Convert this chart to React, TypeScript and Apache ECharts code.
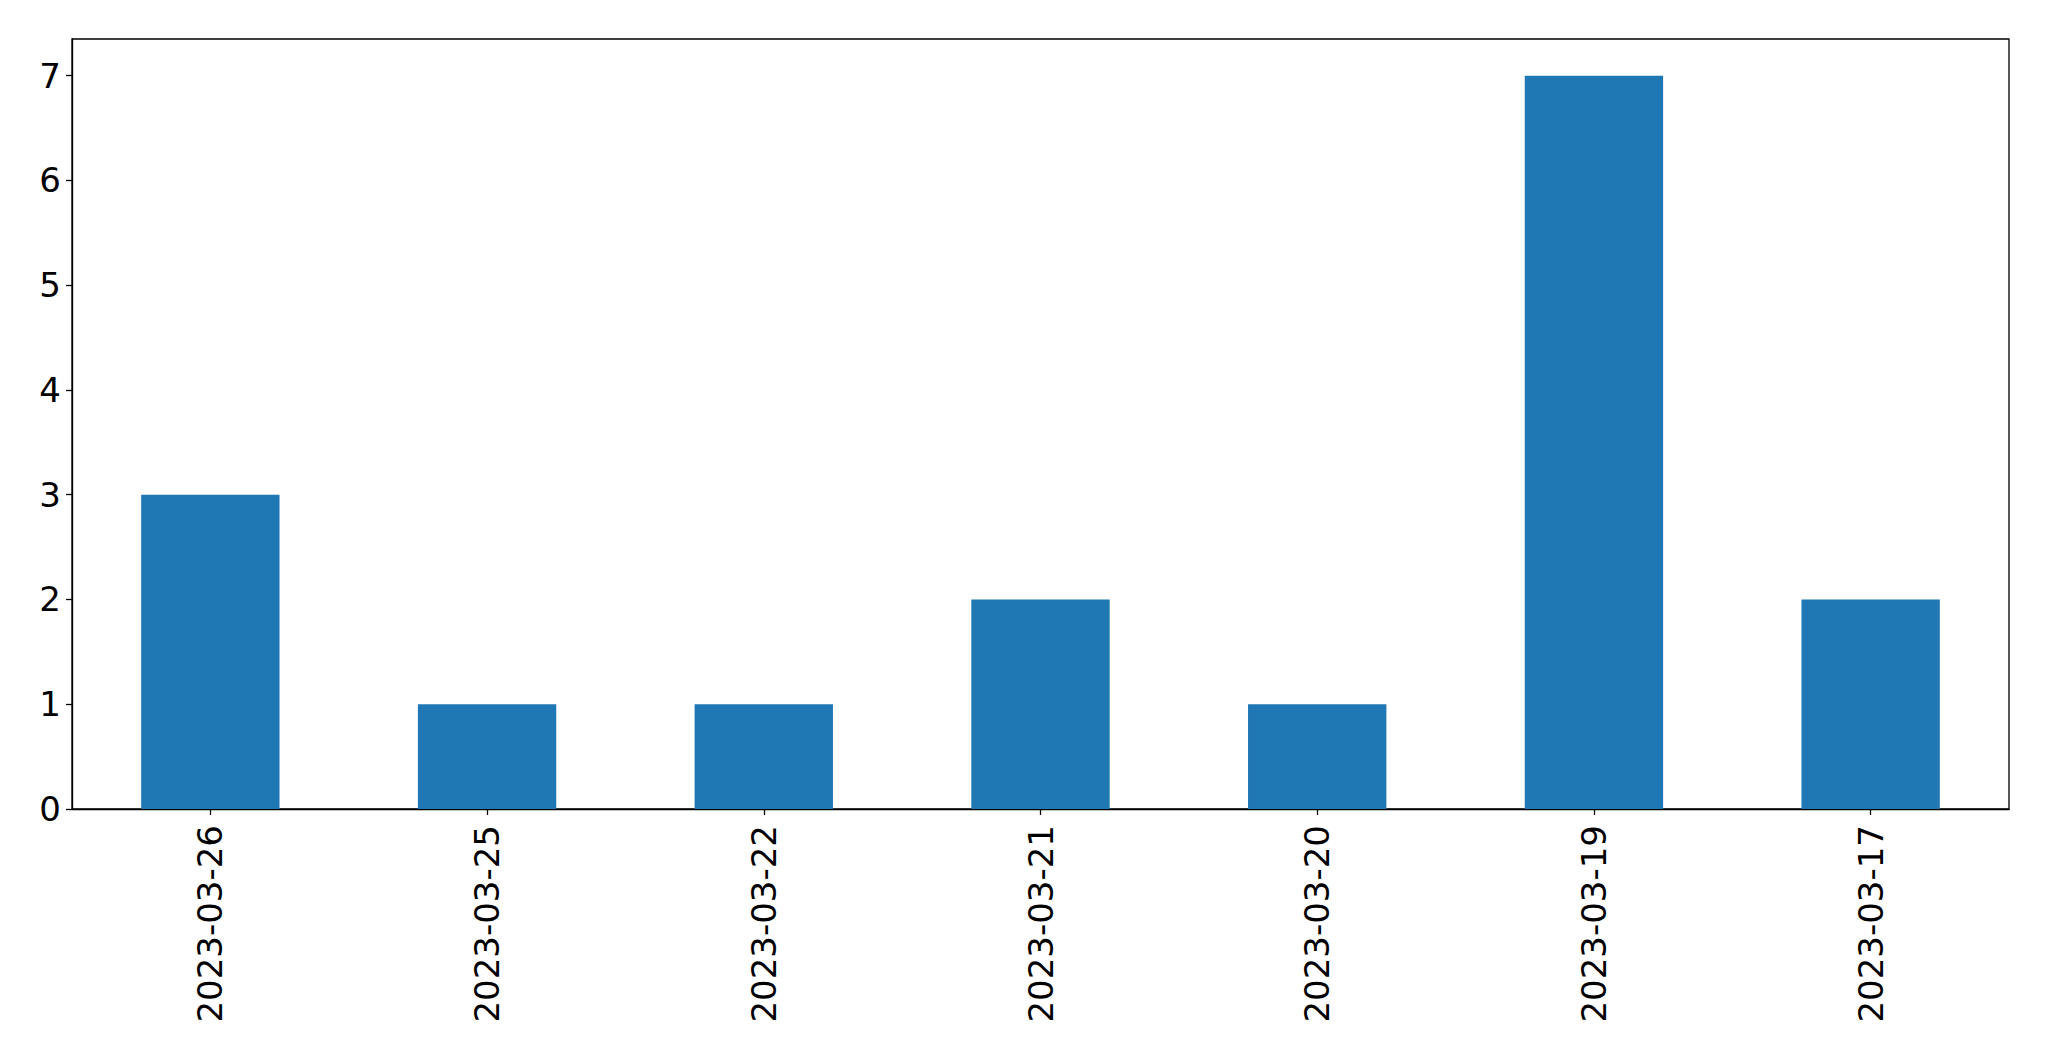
import React, { useEffect, useRef } from "react";
import * as echarts from "echarts";

const categories = ["2023-03-26", "2023-03-25", "2023-03-22", "2023-03-21", "2023-03-20", "2023-03-19", "2023-03-17"];
const values = [3, 1, 1, 2, 1, 7, 2];
const yTicks = [0, 1, 2, 3, 4, 5, 6, 7];

export default function App() {
  const ref = useRef<HTMLDivElement>(null);
  useEffect(() => {
    if (!ref.current) return;
    const chart = echarts.init(ref.current, undefined, { renderer: "svg" });
    const font = "DejaVu Sans";
    chart.setOption({
      animation: false,
      backgroundColor: "#ffffff",
      textStyle: { fontFamily: font },
      grid: {
        left: 72,
        top: 39,
        right: 40,
        bottom: 252,
        show: true,
        borderColor: "#000000",
        borderWidth: 1.3,
        backgroundColor: "transparent",
      },
      xAxis: {
        type: "category",
        data: categories,
        boundaryGap: true,
        axisLine: { show: true, lineStyle: { color: "#000000", width: 1.3 } },
        axisTick: { show: true, alignWithLabel: true, length: 6, lineStyle: { color: "#000000", width: 1.3 } },
        axisLabel: { rotate: 90, fontSize: 34, color: "#000000", fontFamily: font, margin: 16, interval: 0 },
        splitLine: { show: false },
      },
      yAxis: {
        type: "value",
        min: 0,
        max: 7.35,
        interval: 1,
        axisLine: { show: true, lineStyle: { color: "#000000", width: 1.3 } },
        axisTick: { show: true, length: 6, lineStyle: { color: "#000000", width: 1.3 }, customValues: yTicks },
        axisLabel: { fontSize: 34, color: "#000000", fontFamily: font, margin: 11, customValues: yTicks },
        splitLine: { show: false },
      },
      series: [
        {
          type: "bar",
          data: values,
          barWidth: "50%",
          itemStyle: { color: "#1f77b4" },
        },
      ],
    });
    return () => chart.dispose();
  }, []);
  return (
    <div
      ref={ref}
      style={{ position: "fixed", left: 0, top: 0, width: 2049, height: 1061, background: "#fff" }}
    />
  );
}
